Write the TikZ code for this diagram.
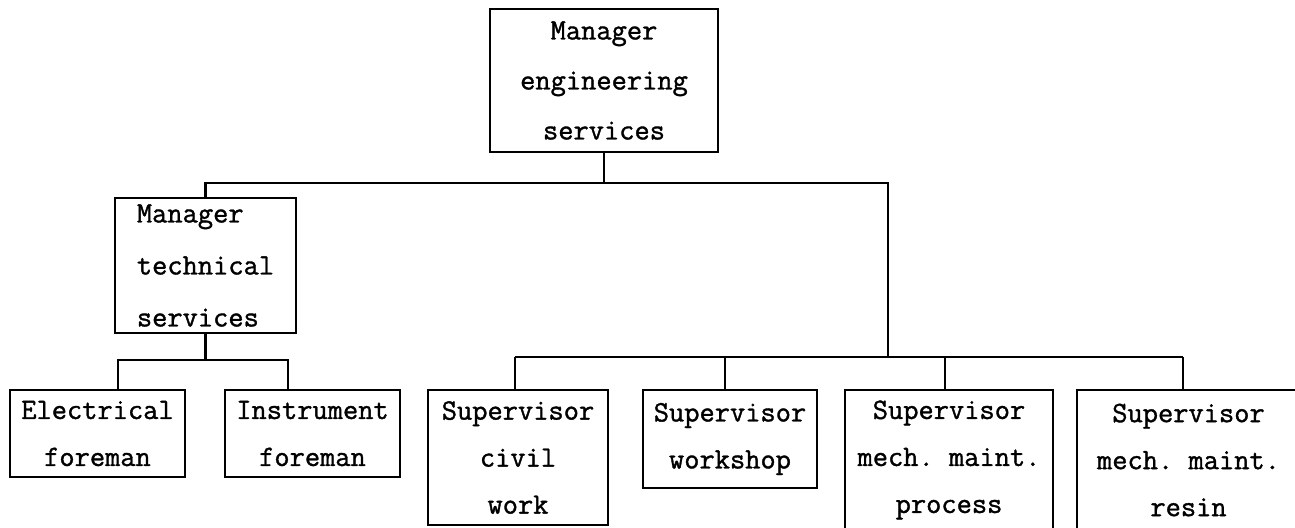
\documentclass[tikz,border=0pt]{standalone}
\usepackage{fontspec}
\newfontfamily\typefont[FakeBold=1.2]{Latin Modern Mono}
\usetikzlibrary{positioning}
\frenchspacing

\begin{document}
\begin{tikzpicture}[x=0.5pt, y=-0.5pt, line width=1.2pt,
    box/.style={draw, line width=1.2pt, inner sep=0pt, align=center,
                font=\typefont\fontsize{14.8}{23.5}\selectfont}]
    \useasboundingbox (0,0) rectangle (1295,527);
    \clip (0,0) rectangle (1295,527);

    % Top manager
    \node[box, minimum width=114pt, minimum height=71.5pt,
          font=\typefont\fontsize{14.8}{25}\selectfont] (mes) at (604,80.5) {Manager\\engineering\\services};

    % Technical services branch
    \node[box, align=left, minimum width=90.5pt, minimum height=67.5pt,
          font=\typefont\fontsize{14.8}{26}\selectfont] (mts) at (205.5,265.5) {Manager\\technical\\services};
    \node[box, minimum width=87.5pt, minimum height=43.5pt] (ele) at (97.5,433.5) {Electrical\\foreman};
    \node[box, minimum width=87.5pt, minimum height=43.5pt] (ins) at (312.5,433.5) {Instrument\\foreman};

    % Supervisors (lower boxes run off the sheet)
    \node[box, minimum width=90pt, minimum height=67.5pt] (civ) at (518,457.5) {Supervisor\\civil\\work};
    \node[box, minimum width=87pt, minimum height=49pt] (wsh) at (730,439) {Supervisor\\workshop};
    \node[box, minimum width=104pt, minimum height=70pt] (prc) at (949,460) {Supervisor\\mech. maint.\\process};
    \node[box, minimum width=111.5pt, minimum height=70pt] (res) at (1188.5,460) {Supervisor\\mech. maint.\\resin};

    % Bus lines
    \coordinate (busR) at (888,183);
    \coordinate (supL) at (515,357);
    \coordinate (supR) at (1183,357);
    \coordinate (forL) at (118,360);
    \coordinate (forR) at (288,360);

    \draw (mes.south) -- (mes.south |- busR);
    \draw (mts.north) |- (busR) -- (busR |- supR);
    \draw (supL) -- (supR);
    \foreach \n/\x in {civ/515, wsh/725, prc/945, res/1183}
        \draw (supL -| \x,0) -- (\n.north -| \x,0);

    \draw (mts.south) -- (mts.south |- forL);
    \draw (ele.north -| forL) |- (forR) -- (ins.north -| forR);
\end{tikzpicture}
\end{document}
